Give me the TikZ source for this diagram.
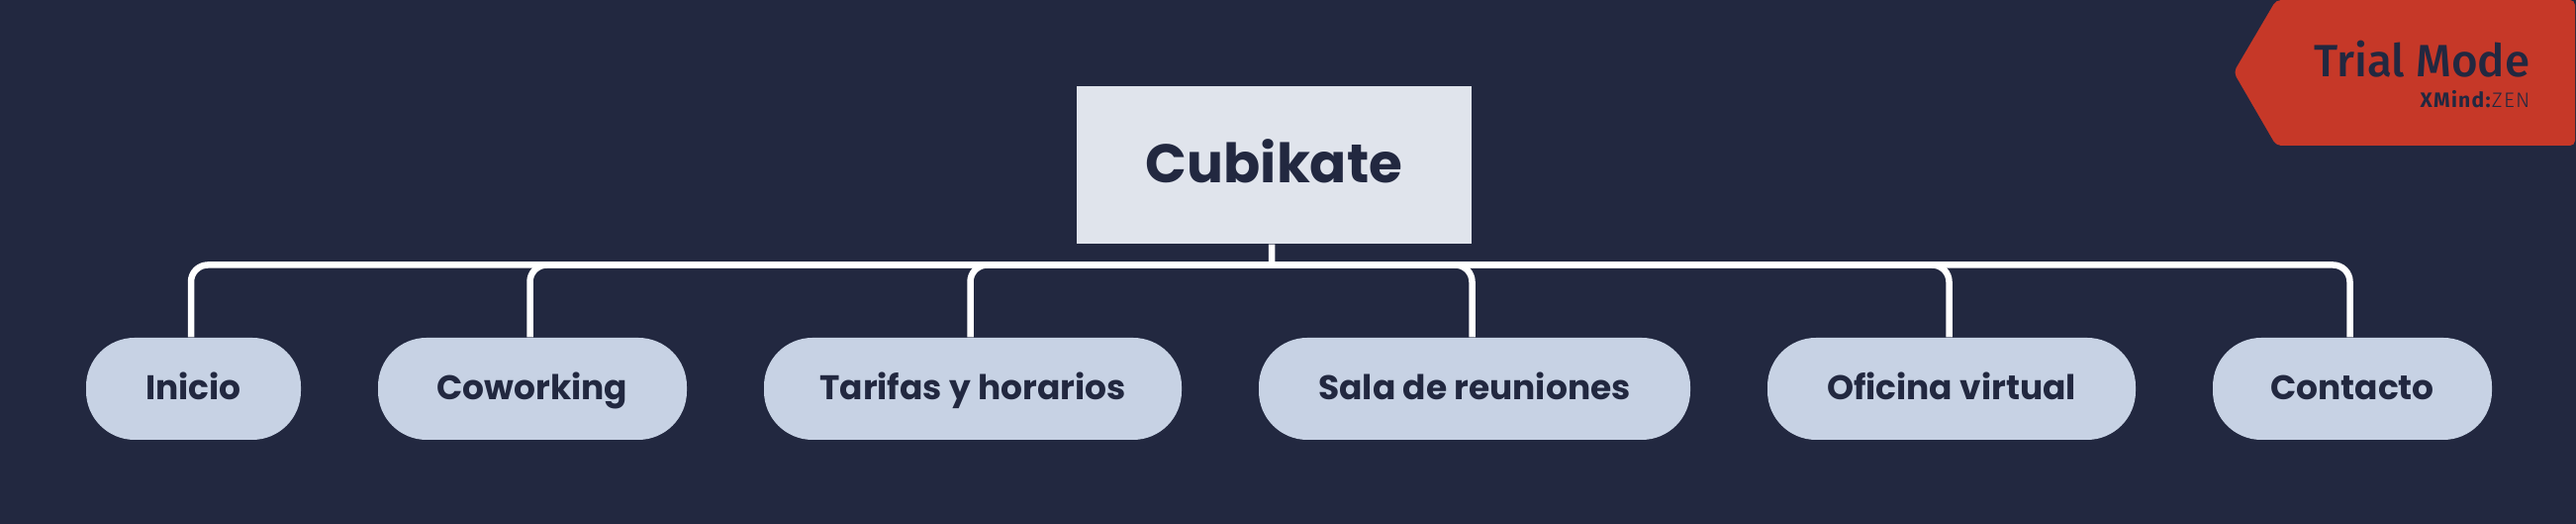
\documentclass[tikz,border=0pt]{standalone}
\usepackage{fontspec}
\setmainfont{Poppins}
\newfontfamily\trialfont{Fira Sans Medium}
\newfontfamily\trialthin{Fira Sans Light}
\newfontfamily\trialbold{Fira Sans}[BoldFont={Fira Sans Bold}]
\usetikzlibrary{positioning}
\definecolor{canvasblue}{HTML}{222840}
\definecolor{rootfill}{HTML}{E0E4EC}
\definecolor{topicfill}{HTML}{C7D2E4}
\definecolor{trialred}{HTML}{C63828}

\begin{document}
\begin{tikzpicture}
	\tikzset{rootbox/.style = {shape=rectangle, fill=rootfill, text=canvasblue, inner sep=0pt, minimum width=3.99cm, minimum height=1.59cm, text height=.52cm, text depth=.15cm, font=\fontsize{15.6}{20}\selectfont\bfseries}}
	\tikzset{topic/.style = {shape=rectangle, rounded corners=.49cm, fill=topicfill, text=canvasblue, inner sep=0pt, minimum height=1.03cm, text height=.32cm, text depth=.09cm, font=\fontsize{9.8}{12}\selectfont\bfseries}}
	\tikzset{branch/.style = {draw=white, line width=.065cm, rounded corners=.17cm}}

	\useasboundingbox[fill=canvasblue] (0,0) rectangle (26.03,5.29);

	% branches go in first, the boxes cover their ends
	\coordinate (HUB) at (12.85,2.615);

	\node[rootbox] (CUBIKATE) at (12.875,3.625) {Cubikate};
	\node[topic, minimum width=2.17cm] (INICIO) at (1.955,1.365) {Inicio};
	\node[topic, minimum width=3.12cm] (COWORKING) at (5.38,1.365) {Coworking};
	\node[topic, minimum width=4.22cm] (TARIFAS) at (9.83,1.365) {Tarifas y horarios};
	\node[topic, minimum width=4.36cm] (SALA) at (14.90,1.365) {Sala de reuniones};
	\node[topic, minimum width=3.72cm] (OFICINA) at (19.72,1.365) {Oficina virtual};
	\node[topic, minimum width=2.82cm] (CONTACTO) at (23.77,1.365) {Contacto};

	\draw[branch] ([xshift=-.025cm]CUBIKATE.south) -- (HUB);
	\foreach \topicname in {INICIO,COWORKING,TARIFAS,SALA,OFICINA,CONTACTO}
		\draw[branch] (HUB) -| ([xshift=-.025cm]\topicname.north);

	% trial badge
	\fill[trialred, rounded corners=.05cm] (26.02,5.29) -- (23.00,5.29) -- (22.57,4.56) -- (23.00,3.82) -- (26.02,3.82) -- cycle;
	\node[anchor=base east, inner sep=0pt, text=canvasblue, font=\trialfont\fontsize{13}{15}\selectfont] (TRIAL) at (25.57,4.51) {Trial Mode};
	\node[anchor=base east, inner sep=0pt, text=canvasblue, font=\fontsize{6}{6}\selectfont] (XMIND) at (25.57,4.20) {\trialbold\addfontfeature{LetterSpace=6}\textbf{XMind:}\trialthin\addfontfeature{LetterSpace=6}ZEN};
\end{tikzpicture}
\end{document}
